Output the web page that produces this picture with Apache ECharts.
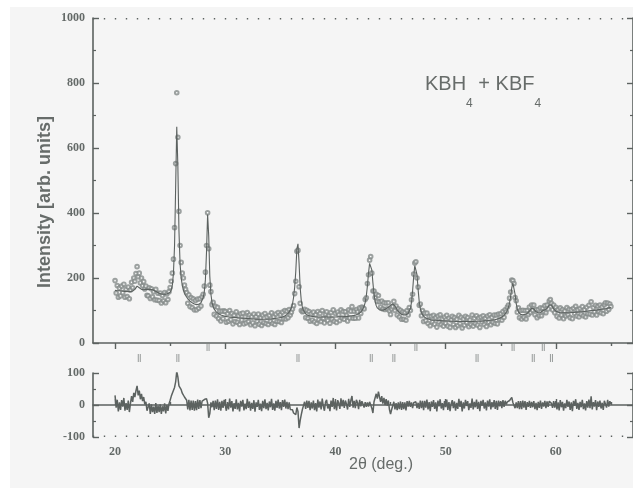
<!DOCTYPE html>
<html>
<head>
<meta charset="utf-8">
<title>KBH4 + KBF4 powder pattern</title>
<script src="https://cdn.jsdelivr.net/npm/echarts@6/dist/echarts.min.js"></script>
<style>
  html, body { margin: 0; padding: 0; background: #ffffff; }
  #panel { position: absolute; left: 10px; top: 7px; width: 623px; height: 481px; background: #f5f5f5; }
  #chart { position: absolute; left: 0; top: 0; width: 633px; height: 490px; }
</style>
</head>
<body>
<div id="panel"></div>
<div id="chart"></div>
<script>
// 2-theta sampling of the scan (degrees)
const scanStart = 20.0;
const scanStep = 0.1;

// observed counts, one row per degree (20.0 ... 65.0)
const observed = [
  192,154,177,141,169,145,175,155,181,141,
  165,143,172,136,163,187,170,200,190,214,
  235,204,215,185,200,176,189,166,175,147,
  145,170,137,167,142,158,133,165,132,153,
  131,154,123,146,130,155,124,151,134,158,
  171,190,215,258,355,552,770,633,405,300,
  248,215,200,178,165,155,122,148,112,140,
  109,136,102,131,102,135,107,136,114,142,
  150,175,218,300,401,290,178,158,118,125,
  88,113,83,110,75,98,68,98,75,99,
  97,64,90,67,100,72,91,59,85,66,
  96,64,84,57,90,71,92,59,80,62,
  94,66,86,56,81,62,89,53,81,67,
  89,58,77,54,86,63,91,60,80,57,
  85,67,93,60,80,57,89,67,94,66,
  87,63,95,75,100,74,98,78,103,86,
  95,105,115,152,190,282,285,173,122,100,
  96,98,104,78,101,76,97,67,90,71,
  95,65,87,60,97,72,91,66,100,76,
  62,89,96,69,83,61,94,74,102,67,
  91,63,95,87,69,102,77,97,73,96,
  85,68,102,77,98,112,76,98,76,103,
  96,77,108,91,111,108,105,134,139,183,
  210,255,266,215,160,160,140,150,128,146,
  127,111,129,105,124,103,123,105,124,99,
  88,105,112,128,100,114,86,105,80,101,
  73,96,73,94,70,100,86,109,100,133,
  150,212,246,250,200,172,116,120,84,100,
  66,92,69,92,60,82,53,82,65,85,
  58,78,49,83,65,87,57,74,52,80,
  61,85,52,76,48,71,82,57,78,48,
  73,54,85,60,79,46,74,55,82,63,
  78,50,71,57,86,52,76,60,84,55,
  77,48,80,65,84,57,76,51,83,64,
  87,56,79,64,86,60,86,59,89,72,
  90,70,97,79,102,96,111,117,138,157,
  194,192,183,140,130,95,108,78,100,74,
  101,79,100,74,100,88,111,94,117,101,
  117,87,103,78,103,84,108,84,107,96,
  115,93,117,105,129,134,122,102,117,93,
  110,82,103,77,108,86,103,75,98,83,
  109,87,104,78,102,75,107,91,113,83,
  102,80,106,89,112,84,102,80,110,90,
  116,89,127,86,109,96,116,86,113,97,
  117,93,111,90,118,124,98,123,103,120,
  112
];

// refined (calculated) profile on the same 2-theta grid
const calculated = [
  162,162,161,161,161,160,160,160,159,159,
  159,158,158,158,158,159,160,162,165,169,
  175,174,170,167,165,164,164,164,165,165,
  165,165,165,165,164,163,161,159,157,155,
  153,152,151,150,150,150,150,151,152,154,
  156,163,178,215,300,480,665,545,345,245,
  200,178,163,153,146,140,136,132,129,126,
  124,122,120,119,118,118,119,121,124,130,
  140,158,195,280,395,330,205,150,125,112,
  104,99,95,92,90,88,86,85,84,83,
  82,82,81,81,80,80,79,79,79,78,
  78,78,77,77,77,76,76,76,76,75,
  75,75,75,74,74,74,74,74,73,73,
  73,73,73,73,73,73,73,73,73,74,
  74,74,74,75,75,75,76,76,77,77,
  78,79,80,81,83,85,88,91,95,100,
  108,120,140,172,220,290,305,245,170,130,
  110,100,94,90,87,85,84,83,82,82,
  81,81,81,80,80,80,80,80,80,80,
  80,80,80,80,80,80,80,80,80,80,
  80,80,80,81,81,81,81,81,82,82,
  82,82,83,83,83,84,84,85,86,87,
  88,90,92,95,99,105,113,125,145,175,
  215,245,250,225,185,150,128,115,108,104,
  102,101,101,101,102,103,105,107,110,113,
  116,119,120,118,114,108,102,97,93,90,
  88,87,86,86,87,88,91,96,106,125,
  160,205,238,240,210,165,128,106,94,87,
  82,79,77,75,74,73,72,71,71,70,
  70,70,69,69,69,69,68,68,68,68,
  68,68,67,67,67,67,67,67,67,66,
  66,66,66,66,66,66,66,66,66,66,
  66,66,66,66,66,66,66,67,67,67,
  67,67,67,67,68,68,68,68,69,69,
  69,70,70,71,71,72,73,74,75,76,
  78,80,82,85,89,94,101,110,124,145,
  170,184,178,150,122,105,96,91,88,87,
  87,87,88,89,91,94,98,103,107,108,
  105,100,96,94,93,93,94,96,99,101,
  102,103,106,111,117,120,117,111,105,101,
  98,96,95,94,93,93,93,93,93,93,
  93,93,93,93,94,94,94,94,95,95,
  95,95,96,96,96,97,97,97,98,98,
  99,99,100,100,100,101,101,102,102,103,
  103,104,104,105,105,106,106,107,108,108,
  109
];

// Bragg reflection positions (2-theta, deg) for the two marker rows
const braggUpper = [28.44, 47.30, 56.12, 58.86];
const braggLower = [22.2, 25.7, 36.6, 43.25, 45.3, 52.85, 57.95, 59.6];

// axis ticks and labels
const majorTicks = [20, 30, 40, 50, 60];
const midTicks = [25, 35, 45, 55, 65];
const fineTicks = [];
for (let d = 18; d <= 67; d += 1) fineTicks.push(d);

const ink = '#5c6260';
const dotInk = '#858b89';
const labelInk = '#646a68';

const twoTheta = observed.map((_, i) => Math.round((scanStart + i * scanStep) * 10) / 10);
const obsData = observed.map((v, i) => [twoTheta[i], v]);
const calcData = calculated.map((v, i) => [twoTheta[i], v]);
const diffData = observed.map((v, i) => [twoTheta[i], v - calculated[i]]);
const ROW_UPPER = 18, ROW_LOWER = 7;
const markerData = braggUpper.map(p => [p, ROW_UPPER]).concat(braggLower.map(p => [p, ROW_LOWER]));

const tickLabelFont = {
  fontFamily: '"Liberation Serif", "DejaVu Serif", serif',
  fontWeight: 'bold',
  fontSize: 12,
  color: labelInk
};

function xAxisOf(gridIndex, position, values, len, showLine, labels) {
  return {
    type: 'value', gridIndex, position, min: 18, max: 67,
    axisLine: { show: showLine, lineStyle: { color: ink, width: 1.6 } },
    axisTick: { show: true, inside: true, length: len, customValues: values, lineStyle: { color: ink, width: 1.4 } },
    axisLabel: labels ? Object.assign({ show: true, customValues: values, margin: 9, formatter: v => String(v) }, tickLabelFont) : { show: false },
    splitLine: { show: false }
  };
}

function yAxisOf(gridIndex, position, min, max, interval, labels) {
  return {
    type: 'value', gridIndex, position, min, max, interval,
    axisLine: { show: true, lineStyle: { color: ink, width: 1.6 } },
    axisTick: { show: true, inside: true, length: 6, lineStyle: { color: ink, width: 1.4 } },
    minorTick: { show: true, splitNumber: 2, length: 3, lineStyle: { color: ink, width: 1.2 } },
    axisLabel: labels ? Object.assign({ show: true, margin: 8, formatter: v => String(v) }, tickLabelFont) : { show: false },
    splitLine: { show: false }
  };
}

const chart = echarts.init(document.getElementById('chart'), null, { renderer: 'canvas' });

const titleFont = '"Liberation Sans", Arial, sans-serif';

chart.setOption({
  animation: false,
  backgroundColor: 'transparent',
  title: {
    left: 425, top: 74, padding: 0,
    text: '{m|KBH}{s|4}{m| + KBF}{s|4}',
    textStyle: {
      fontWeight: 'normal',
      rich: {
        m: { fontFamily: titleFont, fontWeight: 'normal', fontSize: 20, lineHeight: 20, verticalAlign: 'top', color: '#676c6a' },
        s: { fontFamily: titleFont, fontWeight: 'normal', fontSize: 12, lineHeight: 12, padding: [24, 0, 0, 0], verticalAlign: 'top', color: '#676c6a' }
      }
    }
  },
  grid: [
    { left: 93, right: -2, top: 18, height: 325 },
    { left: 93, right: -2, top: 373, height: 64 },
    { left: 93, right: -2, top: 340, height: 25 }
  ],
  xAxis: [
    xAxisOf(0, 'top', majorTicks, 6, true, false),
    xAxisOf(0, 'top', midTicks, 3, false, false),
    xAxisOf(0, 'top', fineTicks, 1.5, false, false),
    xAxisOf(1, 'bottom', majorTicks, 6, true, true),
    xAxisOf(1, 'bottom', midTicks, 3, false, false),
    xAxisOf(1, 'bottom', fineTicks, 1.5, false, false),
    { type: 'value', gridIndex: 2, min: 18, max: 67, show: false }
  ],
  yAxis: [
    yAxisOf(0, 'left', 0, 1000, 200, true),
    yAxisOf(0, 'right', 0, 1000, 200, false),
    yAxisOf(1, 'left', -100, 100, 100, true),
    yAxisOf(1, 'right', -100, 100, 100, false),
    { type: 'value', gridIndex: 2, min: 0, max: 25, show: false }
  ],
  graphic: [
    {
      type: 'text', x: 45, y: 202, rotation: Math.PI / 2,
      style: {
        text: 'Intensity [arb. units]',
        fontFamily: titleFont, fontWeight: 'bold', fontSize: 18,
        fill: '#676c6a', align: 'center', verticalAlign: 'middle'
      }
    },
    {
      type: 'text', x: 381, y: 465,
      style: {
        text: '2θ (deg.)',
        fontFamily: titleFont, fontSize: 16,
        fill: '#676c6a', align: 'center', verticalAlign: 'middle'
      }
    }
  ],
  series: [
    {
      name: 'observed', type: 'scatter', xAxisIndex: 0, yAxisIndex: 0,
      data: obsData, symbol: 'emptyCircle', symbolSize: 3.6,
      itemStyle: { color: dotInk, borderColor: dotInk, borderWidth: 0.9 },
      z: 2
    },
    {
      name: 'calculated', type: 'line', xAxisIndex: 0, yAxisIndex: 0,
      data: calcData, showSymbol: false, symbol: 'none',
      lineStyle: { color: ink, width: 1.1 },
      z: 3
    },
    {
      name: 'difference', type: 'line', xAxisIndex: 3, yAxisIndex: 2,
      data: diffData, showSymbol: false, symbol: 'none',
      lineStyle: { color: ink, width: 1.5 }
    },
    {
      name: 'reflections', type: 'scatter', xAxisIndex: 6, yAxisIndex: 4,
      data: markerData, symbol: 'path://M0,0H1V8H0Z M2,0H3V8H2Z', symbolSize: [3, 8],
      itemStyle: { color: '#7f8583' }
    }
  ]
});
</script>
</body>
</html>
